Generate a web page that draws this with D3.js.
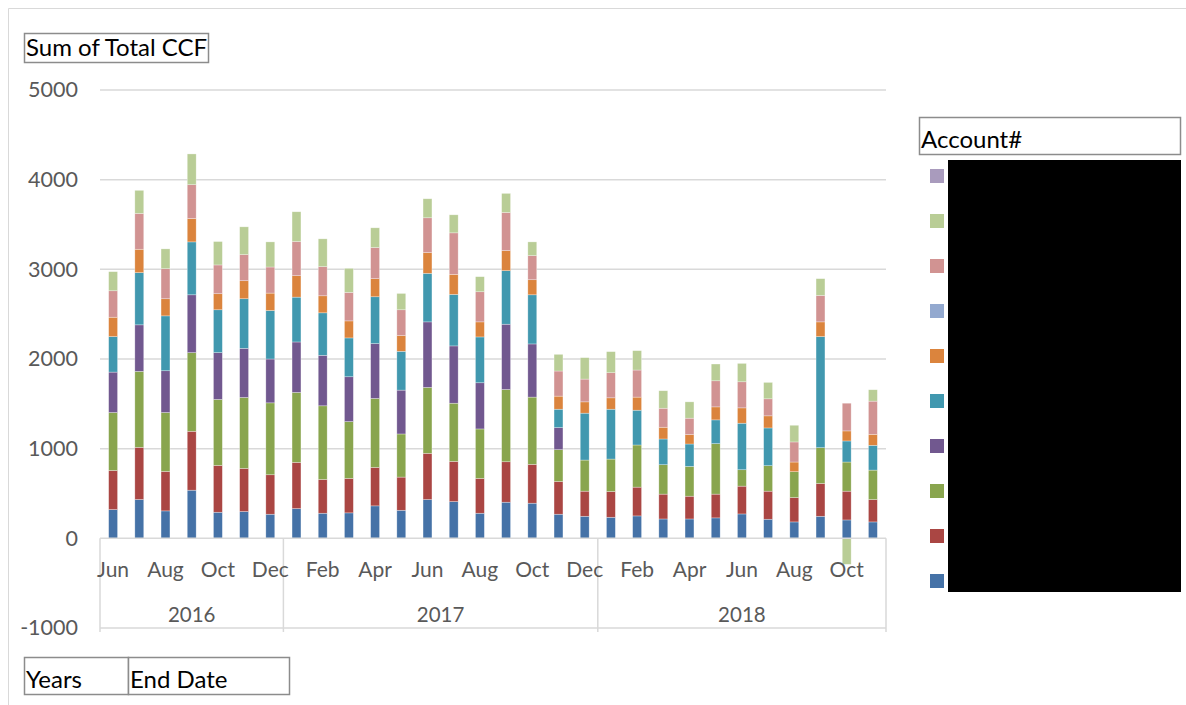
<!DOCTYPE html>
<html><head><meta charset="utf-8">
<script src="https://cdn.jsdelivr.net/npm/d3@7"></script>
<style>body{margin:0;background:#fff;} svg{display:block;font-family:Lato,"Open Sans",sans-serif;}</style>
</head><body><svg id="c" width="1186" height="705"></svg>
<script>
const months = ["Jun","Jul","Aug","Sep","Oct","Nov","Dec",
  "Jan","Feb","Mar","Apr","May","Jun","Jul","Aug","Sep","Oct","Nov","Dec",
  "Jan","Feb","Mar","Apr","May","Jun","Jul","Aug","Sep","Oct","Nov"];
const years = ["2016","2016","2016","2016","2016","2016","2016",
  "2017","2017","2017","2017","2017","2017","2017","2017","2017","2017","2017","2017",
  "2018","2018","2018","2018","2018","2018","2018","2018","2018","2018","2018"];
const yTicks = [-1000,0,1000,2000,3000,4000,5000];

// series, bottom of stack first
const acctA = [321,433,306,537,291,299,269,332,280,284,362,313,433,410,280,403,392,269,246,235,250,216,216,228,272,213,183,246,205,183];
const acctB = [436,582,440,657,522,481,440,515,377,384,429,370,515,448,388,451,433,365,280,287,321,277,254,265,310,313,272,366,321,250];
const acctC = [646,847,657,877,736,791,802,780,821,634,769,481,735,649,552,806,750,355,347,362,470,328,332,563,183,284,288,399,325,328];
const acctD = [451,519,466,645,522,548,489,563,563,500,612,489,731,639,515,728,593,246,0,0,0,0,0,0,0,0,0,0,0,0];
const acctE = [396,582,612,590,478,553,541,500,474,433,522,433,541,574,511,597,548,205,523,556,388,287,250,265,519,421,0,1239,235,276];
const acctF = [216,261,191,261,179,201,194,239,190,190,202,175,232,224,168,224,168,146,126,127,146,131,105,145,171,135,108,164,112,123];
const acctG = [0,0,0,0,0,0,0,0,0,0,0,0,0,0,0,0,0,0,0,0,0,0,0,0,0,0,0,0,0,0];
const acctH = [295,399,335,377,321,291,291,381,325,318,347,288,388,463,336,425,269,280,254,280,302,212,183,291,291,190,224,295,309,370];
const acctI = [213,258,221,343,261,310,280,332,310,268,220,182,212,201,168,213,153,186,239,235,216,195,182,187,205,183,186,187,-290,127];
const acctJ = [0,0,0,0,0,0,0,0,0,0,0,0,0,0,0,0,0,0,0,0,0,0,0,0,0,0,0,0,0,0];

const seriesData = [acctA,acctB,acctC,acctD,acctE,acctF,acctG,acctH,acctI,acctJ];
const keys = ["s1","s2","s3","s4","s5","s6","s7","s8","s9","s10"];
const colors = ["#4572A7","#AA4643","#89A54E","#71588F","#4198AF","#DB843D","#93A9CF","#D19392","#B9CD96","#A99BBD"];

const svg = d3.select("#c");
// chart area border
svg.append("path").attr("d","M8.5,705 V8.5 H1186").attr("fill","none").attr("stroke","#d9d9d9").attr("stroke-width",1);

const x = d3.scaleBand().domain(d3.range(months.length)).range([100,886]).paddingInner(0.66).paddingOuter(0.33);
const y = d3.scaleLinear().domain([-1000,5000]).range([628,90]);

// gridlines
svg.append("g").selectAll("line").data(yTicks.filter(t=>t!==0)).join("line")
  .attr("x1",100).attr("x2",886).attr("y1",d=>y(d)).attr("y2",d=>y(d))
  .attr("stroke","#d9d9d9").attr("stroke-width",1.5);

// y axis labels
const yAxis = d3.axisLeft(y).tickValues(yTicks).tickSize(0).tickPadding(0).tickFormat(d=>String(d));
const ya = svg.append("g").attr("transform","translate(78,0)").call(yAxis);
ya.select(".domain").remove();
ya.selectAll("text").attr("font-size",21.5).attr("fill","#595959").attr("font-family","Lato,sans-serif");

// stacked bars
const table = months.map((m,i)=>{const o={idx:i}; keys.forEach((k,j)=>o[k]=seriesData[j][i]); return o;});
const stack = d3.stack().keys(keys).offset(d3.stackOffsetDiverging)(table);
svg.append("g").selectAll("g").data(stack).join("g").attr("fill",(d,i)=>colors[i])
  .selectAll("rect").data(d=>d).join("rect")
  .attr("x",d=>x(d.data.idx)).attr("width",x.bandwidth())
  .attr("y",d=>y(Math.max(d[0],d[1]))).attr("height",d=>Math.abs(y(d[0])-y(d[1])))
  .attr("stroke","#ffffff").attr("stroke-opacity",0.5).attr("stroke-width",0.6);

// category axis (zero line + multi-level boxes)
svg.append("line").attr("x1",100).attr("x2",886).attr("y1",y(0)).attr("y2",y(0)).attr("stroke","#d9d9d9").attr("stroke-width",1.5);
const yearGroups = d3.groups(d3.range(months.length), i=>years[i]);
const sepX = [100].concat(yearGroups.map(([yr,idx])=>{const last=idx[idx.length-1]; return last===months.length-1?886:(x(last)+x(last+1)+x.bandwidth())/2;}));
svg.append("g").selectAll("line").data(sepX).join("line")
  .attr("x1",d=>d).attr("x2",d=>d).attr("y1",y(0)).attr("y2",632)
  .attr("stroke","#d9d9d9").attr("stroke-width",1.5);

svg.append("g").selectAll("text").data(d3.range(months.length).filter(i=>i%2===0)).join("text")
  .attr("x",i=>x(i)+x.bandwidth()/2).attr("y",577).attr("text-anchor","middle")
  .attr("font-size",21).attr("fill","#595959").text(i=>months[i]);

svg.append("g").selectAll("text").data(yearGroups).join("text")
  .attr("x",(d,k)=>(sepX[k]+sepX[k+1])/2).attr("y",622).attr("text-anchor","middle")
  .attr("font-size",20.5).attr("fill","#595959").text(d=>d[0]);

// title boxes
function box(x0,y0,w,h,label,fs){
  svg.append("rect").attr("x",x0+0.5).attr("y",y0+0.5).attr("width",w).attr("height",h).attr("fill","#fff").attr("stroke","#8c8c8c").attr("stroke-width",1.5);
  svg.append("text").attr("x",x0+2).attr("y",y0+h-6).attr("font-size",fs).attr("fill","#000").text(label);
}
box(24,33,184,29,"Sum of Total CCF",24);
box(919,117,261,37,"Account#",24);
box(24,657,104,37,"Years",24);
box(128,657,161,37,"End Date",24);

// legend (top series first)
const legendOrder = d3.range(keys.length).reverse();
svg.append("g").selectAll("rect").data(legendOrder).join("rect")
  .attr("x",930).attr("y",(d,k)=>169+k*45).attr("width",14).attr("height",14).attr("fill",d=>colors[d]);
svg.append("rect").attr("x",948).attr("y",160).attr("width",233).attr("height",432).attr("fill","#000");
</script></body></html>
